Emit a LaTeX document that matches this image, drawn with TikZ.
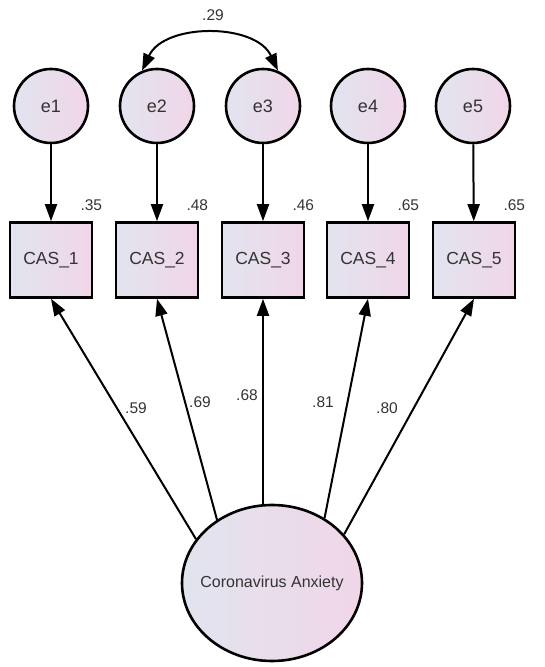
\documentclass[tikz,border=0pt]{standalone}
\usepackage{fontspec}
\setmainfont{Liberation Sans}
\usetikzlibrary{arrows.meta,shapes.geometric}
\definecolor{txt}{HTML}{333333}
\definecolor{fillL}{HTML}{E2E4EF}
\definecolor{fillR}{HTML}{F0D6E8}
\tikzset{
  base/.style={draw=black, line width=2.6pt, left color=fillL, right color=fillR, text=txt, font=\fontsize{17.5}{20}\selectfont, inner sep=0pt},
  errnode/.style={base, circle, minimum size=74pt, font=\fontsize{18}{20}\selectfont},
  obsbox/.style={base, rectangle, minimum width=82pt, minimum height=75pt},
  latent/.style={base, ellipse, minimum width=180pt, minimum height=156pt, font=\fontsize{16}{18}\selectfont},
  arr/.style={line width=2pt, -{Triangle[length=17pt,width=12pt]}},
  est/.style={text=txt, font=\fontsize{15.5}{18}\selectfont, inner sep=0pt}
}
\begin{document}
\begin{tikzpicture}[x=1pt,y=1pt]
\useasboundingbox (0,0) rectangle (544,667);
% error terms
\node[errnode] (e1) at (51,561) {e1};
\node[errnode] (e2) at (157,561) {e2};
\node[errnode] (e3) at (263,561) {e3};
\node[errnode] (e4) at (368,561) {e4};
\node[errnode] (e5) at (473,561) {e5};
% observed
\node[obsbox] (c1) at (51,407) {CAS\_1};
\node[obsbox] (c2) at (157,407) {CAS\_2};
\node[obsbox] (c3) at (263,407) {CAS\_3};
\node[obsbox] (c4) at (368,407) {CAS\_4};
\node[obsbox] (c5) at (474,407) {CAS\_5};
% latent
\node[latent] (F) at (272,84) {\makebox[0pt]{Coronavirus Anxiety}};
% error arrows
\foreach \i in {1,...,5} {\draw[arr] (e\i) -- (c\i);}
% covariance
\draw[line width=2pt, {Triangle[length=17pt,width=12pt]}-{Triangle[length=17pt,width=12pt]}] (e2.113) to[out=65,in=115] (e3.67);
\node[est] (cov) at (213,652) {.29};
% R-squared
\node[est] (r1) at ([xshift=-2pt,yshift=16pt]c1.north east) {.35};
\node[est] (r2) at ([xshift=-2pt,yshift=16pt]c2.north east) {.48};
\node[est] (r3) at ([xshift=-2pt,yshift=16pt]c3.north east) {.46};
\node[est] (r4) at ([xshift=-2pt,yshift=16pt]c4.north east) {.65};
\node[est] (r5) at ([xshift=-2pt,yshift=16pt]c5.north east) {.65};
% loadings
\draw[arr] (F.150) -- (c1.south);
\draw[arr] (F.131) -- (c2.south);
\draw[arr] (F.north -| c3.south) -- (c3.south);
\draw[arr] (F.51) -- (c4.south);
\draw[arr] (F.34) -- (c5.south);
\node[est] (l1) at (136,259) {.59};
\node[est] (l2) at (200,265) {.69};
\node[est] (l3) at (247,272) {.68};
\node[est] (l4) at (323,265) {.81};
\node[est] (l5) at (387,259) {.80};
\end{tikzpicture}
\end{document}
